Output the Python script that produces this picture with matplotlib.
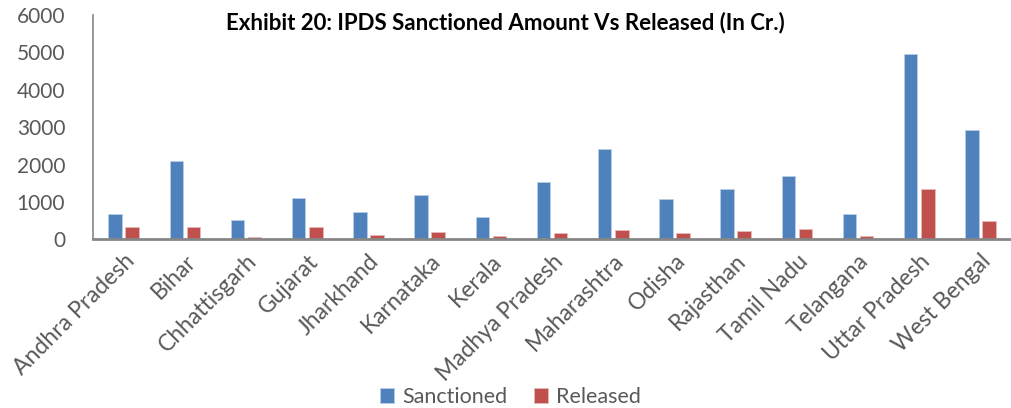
import matplotlib
matplotlib.use('Agg')
import matplotlib.pyplot as plt
import numpy as np

states = ["Andhra Pradesh", "Bihar", "Chhattisgarh", "Gujarat", "Jharkhand",
          "Karnataka", "Kerala", "Madhya Pradesh", "Maharashtra", "Odisha",
          "Rajasthan", "Tamil Nadu", "Telangana", "Uttar Pradesh", "West Bengal"]
sanctioned = [680, 2100, 520, 1115, 740, 1190, 590, 1545, 2410, 1070, 1340, 1700, 680, 4970, 2930]
released = [320, 340, 55, 320, 115, 190, 90, 160, 250, 160, 225, 270, 95, 1340, 490]
yticks = [0, 1000, 2000, 3000, 4000, 5000, 6000]

plt.rcParams['font.family'] = ['Lato', 'DejaVu Sans']

fig = plt.figure(figsize=(10.11, 4.08), dpi=100)
ax = fig.add_axes([0.092, 0.4135, 0.908, 0.5495])

x = np.arange(len(states))
w = 0.22
ax.bar(x - 0.14, sanctioned, w, color="#4f81bd", edgecolor="#b9cde5", linewidth=0.6, label="Sanctioned")
ax.bar(x + 0.14, released, w, color="#c0504d", edgecolor="#e6b9b8", linewidth=0.6, label="Released")

ax.set_xlim(-0.5, len(states) - 0.5)
ax.set_ylim(0, 6000)
ax.set_yticks(yticks)
ax.set_xticks(x)
ax.set_xticklabels(states, rotation=45, ha='right', rotation_mode='anchor', fontsize=16.5)
ax.tick_params(axis='both', length=0, colors="#595959")
ax.tick_params(axis='y', pad=20, labelsize=15)
ax.tick_params(axis='x', pad=8)

for s in ['top', 'right']:
    ax.spines[s].set_visible(False)
ax.spines['left'].set_color("#868686")
ax.spines['left'].set_linewidth(1.2)
ax.spines['bottom'].set_color("#868686")
ax.spines['bottom'].set_linewidth(2)

fig.text(0.5, 0.945, "Exhibit 20: IPDS Sanctioned Amount Vs Released (In Cr.)",
         ha='center', va='center', fontsize=16, fontweight='bold', color='black')

leg = fig.legend(loc='center', bbox_to_anchor=(0.505, 0.027), ncol=2, frameon=False,
                 fontsize=15.5, handlelength=0.65, handleheight=0.65, handletextpad=0.4,
                 columnspacing=1.2)
for t in leg.get_texts():
    t.set_color("#595959")

fig.savefig("out.png", dpi=100)
